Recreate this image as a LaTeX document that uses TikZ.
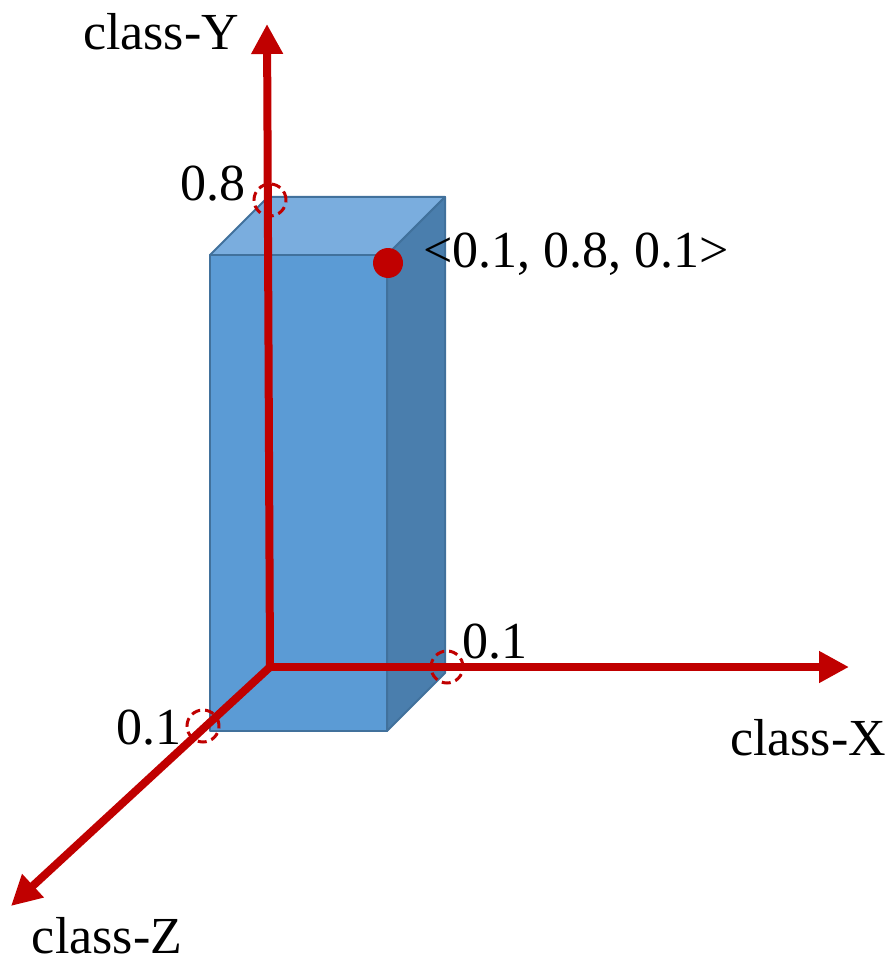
\documentclass[tikz,border=0pt]{standalone}
\usepackage{fontspec}
\setmainfont{Liberation Serif}
\usetikzlibrary{arrows.meta}
\definecolor{axred}{HTML}{C00000}
\definecolor{frontc}{HTML}{5B9BD5}
\definecolor{topc}{HTML}{7AADDE}
\definecolor{sidec}{HTML}{4A7EAD}
\definecolor{edgec}{HTML}{41719C}
\begin{document}
\begin{tikzpicture}[x=1pt,y=-1pt,
  axis/.style={draw=axred,line width=8pt,-{Triangle[length=30pt,width=30pt]}},
  face/.style={draw=edgec,line width=2pt,line join=round},
  dmark/.style={draw=axred,line width=3pt,dash pattern=on 9pt off 5pt,circle,minimum size=32pt,inner sep=0pt},
  lbl/.style={font=\fontsize{52}{57}\selectfont,inner sep=0pt}]
\useasboundingbox (0,0) rectangle (888,968);
% box
\fill[topc,face] (210,255) -- (268,197) -- (445,197) -- (387,255) -- cycle;
\fill[sidec,face] (387,255) -- (445,197) -- (445,673) -- (387,731) -- cycle;
\fill[frontc,face] (210,255) rectangle (387,731);
% axes
\coordinate (O) at (270,667);
\coordinate (Yend) at (267,24);
\coordinate (Xend) at (849,667);
\coordinate (Zend) at (11,906);
\draw[axis] (O) -- (Yend);
\draw[axis] (O) -- (Xend);
\draw[axis] (O) -- (Zend);
\fill[axred] (O) circle (4pt);
% point
\node[circle,fill=axred,minimum size=30pt,inner sep=0pt] (pt) at (388,263) {};
% dashed marks
\node[dmark] (m8) at (270,200) {};
\node[dmark] (mx) at (447,667) {};
\node[dmark] (mz) at (203,726) {};
% labels
\node[lbl,anchor=east] (l8) at (246,184) {0.8};
\node[lbl,anchor=west] (lp) at (423,254) {<0.1, 0.8, 0.1>};
\node[lbl,anchor=west] (lx1) at (462,642) {0.1};
\node[lbl,anchor=east] (lz1) at (182,728) {0.1};
\node[lbl] (ly) at (161,32) {class-Y};
\node[lbl] (lx) at (808,738) {class-X};
\node[lbl] (lz) at (107,936) {class-Z};
\end{tikzpicture}
\end{document}
